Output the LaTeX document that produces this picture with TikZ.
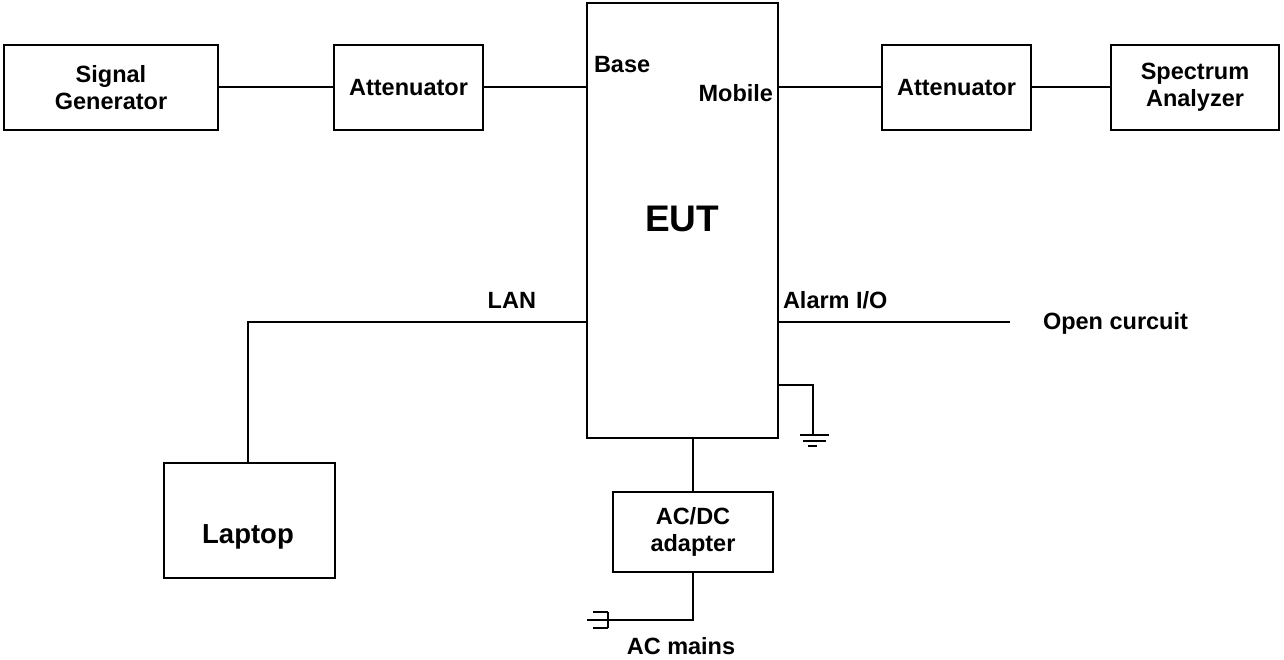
\documentclass[tikz,border=0pt]{standalone}
\usepackage{fontspec}
\setmainfont{Liberation Sans}
\begin{document}
\begin{tikzpicture}[x=1pt,y=-1pt,line width=2pt,
  blk/.style={draw,line width=2pt,inner sep=0pt,align=center,font=\fontsize{23.5}{27}\selectfont\bfseries},
  lbl/.style={inner sep=0pt,font=\fontsize{23.5}{27}\selectfont\bfseries}]
\useasboundingbox (0,0) rectangle (1284,659);
\node[blk,minimum width=214pt,minimum height=85pt] (sg) at (111,87.5) {Signal\\Generator};
\node[blk,minimum width=149pt,minimum height=85pt] (att1) at (408.5,87.5) {Attenuator};
\node[blk,minimum width=191pt,minimum height=435pt] (eut) at (682.5,220.5) {};
\node[lbl,font=\fontsize{37}{42}\selectfont\bfseries] (eutl) at (682,219) {EUT};
\node[blk,minimum width=149pt,minimum height=85pt] (att2) at (956.5,87.5) {Attenuator};
\node[blk,minimum width=168pt,minimum height=85pt] (sa) at (1195,87.5) {Spectrum\\Analyzer};
\node[blk,minimum width=171pt,minimum height=115pt] (lap) at (249.5,520.5) {};
\node[lbl,font=\fontsize{27.5}{31}\selectfont\bfseries] (lapl) at (248,537) {Laptop};
\node[blk,minimum width=160pt,minimum height=80pt] (ad) at (693,532) {AC/DC\\adapter};
\node[lbl,anchor=west] (base) at (593,65) {Base};
\node[lbl,anchor=east] (mob) at (774,93) {Mobile};
\node[lbl,anchor=east] (lan) at (537,300) {LAN};
\node[lbl,anchor=west] (alarm) at (782,300) {Alarm I/O};
\node[lbl,anchor=west] (open) at (1042,323) {Open curcuit};
\node[lbl] (mains) at (681,646) {AC mains};
\coordinate (lanc) at (248,322);
\coordinate (alarmend) at (1010,322);
\coordinate (gc) at (813,385);
\coordinate (gb) at (813,435);
\coordinate (pc) at (693,620);
\coordinate (pp) at (608,620);
\draw (sg.east |- 0,87) -- (att1.west |- 0,87);
\draw (att1.east |- 0,87) -- (eut.west |- 0,87);
\draw (eut.east |- 0,87) -- (att2.west |- 0,87);
\draw (att2.east |- 0,87) -- (sa.west |- 0,87);
\draw (eut.west |- lanc) -- (lanc) -- (lap.north -| lanc);
\draw (eut.east |- alarmend) -- (alarmend);
\draw (eut.east |- gc) -- (gc) -- (gb);
\draw (800,435) -- (829,435);
\draw (803,441) -- (826,441);
\draw (808,446) -- (817,446);
\draw (eut.south -| ad.north) -- (ad.north);
\draw (ad.south) -- (pc) -- (pp);
\draw (608,612) -- (608,628);
\draw (593,612) -- (608,612);
\draw (593,628) -- (608,628);
\draw (587,620) -- (pp);
\end{tikzpicture}
\end{document}
